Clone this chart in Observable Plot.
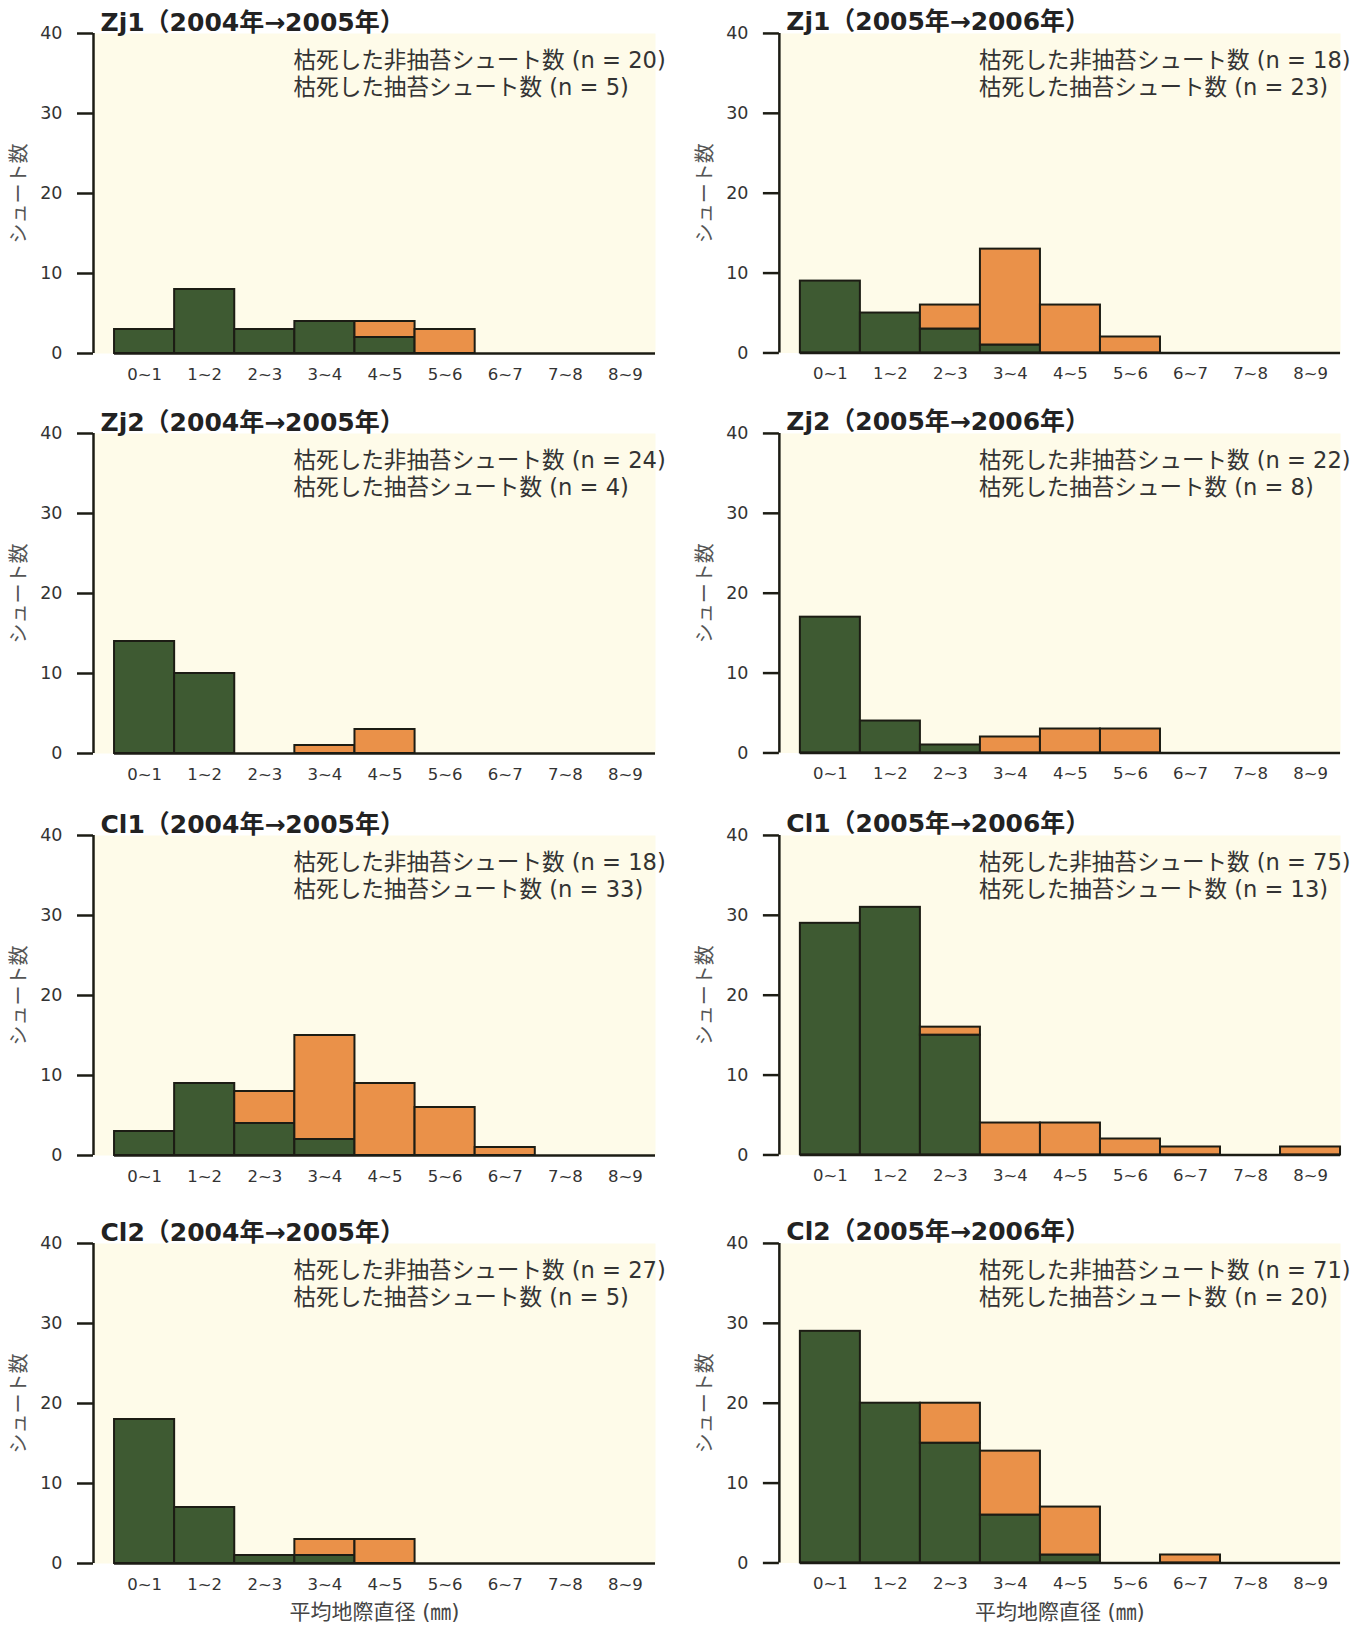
<!DOCTYPE html>
<html>
<head>
<meta charset="utf-8">
<script src="https://cdn.jsdelivr.net/npm/d3@7"></script>
<script src="https://cdn.jsdelivr.net/npm/@observablehq/plot@0.6"></script>
<style>
  html, body { margin: 0; padding: 0; background: #ffffff; }
  #root { position: relative; width: 1370px; height: 1625px; background: #ffffff; overflow: hidden; }
  .panel { position: absolute; }
  .panel svg [aria-label^="y-axis"] path { stroke-width: 2.5px; }
</style>
</head>
<body>
<div id="root"></div>
<script>
// ---- data ----
const bins = ["0~1", "1~2", "2~3", "3~4", "4~5", "5~6", "6~7", "7~8", "8~9"];
const yTicks = [0, 10, 20, 30, 40];
const titles = [
  "Zj1（2004年→2005年）", "Zj1（2005年→2006年）",
  "Zj2（2004年→2005年）", "Zj2（2005年→2006年）",
  "Cl1（2004年→2005年）", "Cl1（2005年→2006年）",
  "Cl2（2004年→2005年）", "Cl2（2005年→2006年）"
];
// dead non-bolting shoots (green, bottom)
const nonBolting = [
  [3, 8, 3, 4, 2, 0, 0, 0, 0],
  [9, 5, 3, 1, 0, 0, 0, 0, 0],
  [14, 10, 0, 0, 0, 0, 0, 0, 0],
  [17, 4, 1, 0, 0, 0, 0, 0, 0],
  [3, 9, 4, 2, 0, 0, 0, 0, 0],
  [29, 31, 15, 0, 0, 0, 0, 0, 0],
  [18, 7, 1, 1, 0, 0, 0, 0, 0],
  [29, 20, 15, 6, 1, 0, 0, 0, 0]
];
// dead bolting shoots (orange, stacked on top)
const bolting = [
  [0, 0, 0, 0, 2, 3, 0, 0, 0],
  [0, 0, 3, 12, 6, 2, 0, 0, 0],
  [0, 0, 0, 1, 3, 0, 0, 0, 0],
  [0, 0, 0, 2, 3, 3, 0, 0, 0],
  [0, 0, 4, 13, 9, 6, 1, 0, 0],
  [0, 0, 1, 4, 4, 2, 1, 0, 1],
  [0, 0, 0, 2, 3, 0, 0, 0, 0],
  [0, 0, 5, 8, 6, 0, 1, 0, 0]
];
const nNonBolting = [20, 18, 24, 22, 18, 75, 27, 71];
const nBolting = [5, 23, 4, 8, 33, 13, 5, 20];
const yLabel = "シュート数";
const xLabel = "平均地際直径 (㎜)";

// ---- style ----
const GREEN = "#3e5a32";
const ORANGE = "#ea9149";
const BG = "#fefbe9";
const INK = "#1c1c14";
const TEXT = "#333333";
const LATIN = "'DejaVu Sans', 'Noto Sans CJK JP', sans-serif";
const CJK = "'Noto Sans CJK JP', sans-serif";

const rowTops = [0, 400, 802, 1210];
const colLefts = [0, 686];
const root = document.getElementById("root");

titles.forEach((title, p) => {
  const row = Math.floor(p / 2), col = p % 2;
  const isBottom = row === 3;
  const height = isBottom ? 415 : 400;
  const greenRects = [], orangeRects = [];
  bins.forEach((b, i) => {
    const g = nonBolting[p][i], o = bolting[p][i];
    if (g > 0) greenRects.push({i, y1: 0, y2: g});
    if (o > 0) orangeRects.push({i, y1: g, y2: g + o});
  });
  const xDomain = [-0.35, bins.length];
  const marks = [
    Plot.frame({fill: BG, stroke: "none"}),
    Plot.rect(greenRects, {x1: d => d.i, x2: d => d.i + 1, y1: "y1", y2: "y2", fill: GREEN, stroke: INK, strokeWidth: 2}),
    Plot.rect(orangeRects, {x1: d => d.i, x2: d => d.i + 1, y1: "y1", y2: "y2", fill: ORANGE, stroke: INK, strokeWidth: 2}),
    Plot.ruleY([0], {x1: 0, x2: bins.length, stroke: INK, strokeWidth: 2.5}),
    Plot.ruleX([xDomain[0]], {y1: 0, y2: 40, stroke: INK, strokeWidth: 2.5}),
    Plot.text(bins, {x: (d, i) => i + 0.5, y: 0, dy: 21, lineAnchor: "middle", fontSize: 16.5, fontFamily: LATIN, fill: TEXT}),
    Plot.text([title], {frameAnchor: "top-left", dx: 7, dy: -11, lineAnchor: "middle", textAnchor: "start", fontWeight: "bold", fontSize: 25, fontFamily: LATIN, fill: "#222", letterSpacing: "1.4px"}),
    Plot.text([`枯死した非抽苔シュート数 (n = ${nNonBolting[p]})`], {frameAnchor: "top-left", dx: 200, dy: 27, lineAnchor: "middle", textAnchor: "start", fontSize: 22.6, fontFamily: LATIN, fill: TEXT}),
    Plot.text([`枯死した抽苔シュート数 (n = ${nBolting[p]})`], {frameAnchor: "top-left", dx: 200, dy: 54, lineAnchor: "middle", textAnchor: "start", fontSize: 22.6, fontFamily: LATIN, fill: TEXT}),
    Plot.text([yLabel], {frameAnchor: "left", dx: -74, rotate: -90, textAnchor: "middle", lineAnchor: "middle", fontSize: 20, fontFamily: CJK, fill: "#555", letterSpacing: "2px"})
  ];
  if (isBottom) {
    marks.push(Plot.text([xLabel], {frameAnchor: "bottom", dy: 49, lineAnchor: "middle", fontSize: 21, fontFamily: LATIN, fill: "#444"}));
  }
  const useAxisMark = typeof Plot.axisY === "function";
  if (useAxisMark) {
    marks.push(Plot.axisY({ticks: yTicks, tickSize: 16, tickPadding: 15, strokeWidth: 2.5, stroke: INK, fontSize: 17.5, fontFamily: LATIN, fill: TEXT, label: null}));
  }
  const chart = Plot.plot({
    width: 685,
    height,
    marginLeft: 93,
    marginRight: 30,
    marginTop: 33,
    marginBottom: height - 353,
    style: {fontFamily: LATIN, fontSize: "17.5px", color: TEXT, background: "transparent", overflow: "visible"},
    x: {type: "linear", domain: xDomain, axis: null},
    y: useAxisMark
      ? {domain: [0, 40], axis: null}
      : {domain: [0, 40], ticks: yTicks, tickSize: 16, tickPadding: 15, label: null},
    marks
  });
  const div = document.createElement("div");
  div.className = "panel";
  div.style.left = colLefts[col] + "px";
  div.style.top = rowTops[row] + "px";
  div.appendChild(chart);
  root.appendChild(div);
});
</script>
</body>
</html>
